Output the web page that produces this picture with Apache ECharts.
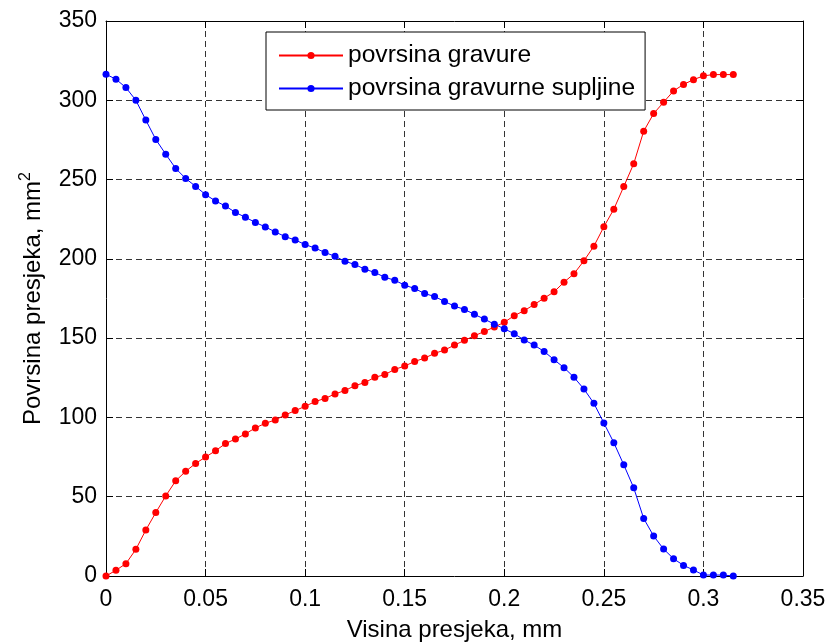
<!DOCTYPE html>
<html>
<head>
<meta charset="utf-8">
<script src="https://cdn.jsdelivr.net/npm/echarts@6/dist/echarts.min.js"></script>
<style>
  html, body { margin: 0; padding: 0; background: #fff; }
  #chart { width: 831px; height: 643px; }
</style>
</head>
<body>
<div id="chart"></div>
<script>
// Visina presjeka (mm)
var heights = [
  0, 0.005, 0.01, 0.015, 0.02, 0.025, 0.03, 0.035, 0.04, 0.045,
  0.05, 0.055, 0.06, 0.065, 0.07, 0.075, 0.08, 0.085, 0.09, 0.095,
  0.1, 0.105, 0.11, 0.115, 0.12, 0.125, 0.13, 0.135, 0.14, 0.145,
  0.15, 0.155, 0.16, 0.165, 0.17, 0.175, 0.18, 0.185, 0.19, 0.195,
  0.2, 0.205, 0.21, 0.215, 0.22, 0.225, 0.23, 0.235, 0.24, 0.245,
  0.25, 0.255, 0.26, 0.265, 0.27, 0.275, 0.28, 0.285, 0.29, 0.295,
  0.3, 0.305, 0.31, 0.315
];
// povrsina gravure (mm^2)
var gravura = [
  0, 3.6, 7.8, 16.8, 29, 40, 50.5, 60, 66, 71,
  75, 79, 83.5, 86.4, 89.6, 93.4, 96.3, 98.4, 101.6, 104.3,
  107, 110, 112, 114.8, 117, 120, 122, 125.3, 127, 130.3,
  132.4, 135.3, 137.4, 140.4, 142.5, 145.6, 148.6, 151.5, 154.2, 157,
  160, 164.2, 167.3, 171.2, 175.2, 179.2, 185.3, 190.6, 198.8, 208,
  220.2, 231.3, 245.6, 260, 280.5, 291.6, 298.8, 305.9, 310, 313,
  315.4, 316.2, 316.2, 316.2
];
// povrsina gravurne supljine (mm^2)
var supljina = [
  316.4, 313.3, 308, 300, 287.5, 275.3, 266, 257, 250.7, 245.7,
  240.5, 236.5, 233.3, 229.3, 226.2, 223, 220.1, 217, 214, 211.9,
  209, 206.8, 204, 201.6, 198.5, 196.4, 193.5, 191.4, 188.4, 186.5,
  183.4, 181.3, 178.1, 176.3, 173.1, 170.2, 168.1, 165, 162, 158.8,
  155.9, 152.8, 148.8, 145.6, 141.6, 136.4, 131.4, 125.3, 117.9, 108.9,
  96.5, 84.1, 70.1, 55.6, 36.3, 25.2, 17, 10.9, 6.7, 3.8,
  0.6, 0.6, 0.6, 0
];
var seriesNames = ['povrsina gravure', 'povrsina gravurne supljine'];
var xName = 'Visina presjeka, mm';
var yName = 'Povrsina presjeka, mm{sup|2}';

function pairs(ys) { return heights.map(function (h, i) { return [h, ys[i]]; }); }

var FONT = 'Liberation Sans, Arial, Helvetica, sans-serif';
var gridLine = { show: true, lineStyle: { color: '#333', type: [6, 4], width: 1 } };

var chart = echarts.init(document.getElementById('chart'));
chart.setOption({
  backgroundColor: '#fff',
  animation: false,
  grid: { left: 106, right: 28, top: 21, bottom: 67, containLabel: false, outerBoundsMode: 'none' },
  legend: {
    orient: 'vertical', left: 266, top: 32, align: 'left',
    backgroundColor: '#fff', borderColor: '#000', borderWidth: 1,
    padding: [11, 10, 9, 12], itemGap: 8, itemWidth: 64, itemHeight: 9,
    textStyle: { fontFamily: FONT, fontSize: 24.6, color: '#000', lineHeight: 24 },
    data: seriesNames
  },
  xAxis: [{
    type: 'value', min: 0, max: 0.35, interval: 0.05, position: 'bottom',
    name: xName, nameLocation: 'middle', nameGap: 42,
    nameTextStyle: { fontFamily: FONT, fontSize: 24, color: '#000' },
    axisLine: { show: true, onZero: false, lineStyle: { color: '#000', width: 1 } },
    axisTick: { show: true, inside: true, length: 7, lineStyle: { color: '#000' } },
    axisLabel: { fontFamily: FONT, fontSize: 23, color: '#000', margin: 12,
      formatter: function (v) { return String(+v.toFixed(2)); } },
    splitLine: gridLine
  }, {
    type: 'value', min: 0, max: 0.35, interval: 0.05, position: 'top',
    axisLine: { show: true, onZero: false, lineStyle: { color: '#000', width: 1 } },
    axisTick: { show: true, inside: true, length: 7, lineStyle: { color: '#000' } },
    axisLabel: { show: false }, splitLine: { show: false }
  }],
  yAxis: [{
    type: 'value', min: 0, max: 350, interval: 50, position: 'left',
    name: yName, nameLocation: 'middle', nameGap: 58, nameRotate: 90,
    nameTextStyle: { fontFamily: FONT, fontSize: 24, color: '#000',
      rich: { sup: { fontFamily: FONT, fontSize: 16, color: '#000', verticalAlign: 'bottom', padding: [0, 0, 14, 0] } } },
    axisLine: { show: true, onZero: false, lineStyle: { color: '#000', width: 1 } },
    axisTick: { show: true, inside: true, length: 7, lineStyle: { color: '#000' } },
    axisLabel: { fontFamily: FONT, fontSize: 23, color: '#000', margin: 9 },
    splitLine: gridLine
  }, {
    type: 'value', min: 0, max: 350, interval: 50, position: 'right',
    axisLine: { show: true, onZero: false, lineStyle: { color: '#000', width: 1 } },
    axisTick: { show: true, inside: true, length: 7, lineStyle: { color: '#000' } },
    axisLabel: { show: false }, splitLine: { show: false }
  }],
  series: [{
    name: seriesNames[0], type: 'line', xAxisIndex: 0, yAxisIndex: 0,
    data: pairs(gravura), symbol: 'circle', symbolSize: 7, showAllSymbol: true,
    color: '#ff0000', lineStyle: { color: '#ff0000', width: 1 },
    itemStyle: { color: '#ff0000' }
  }, {
    name: seriesNames[1], type: 'line', xAxisIndex: 0, yAxisIndex: 0,
    data: pairs(supljina), symbol: 'circle', symbolSize: 7, showAllSymbol: true,
    color: '#0000ff', lineStyle: { color: '#0000ff', width: 1 },
    itemStyle: { color: '#0000ff' }
  }]
});
</script>
</body>
</html>
